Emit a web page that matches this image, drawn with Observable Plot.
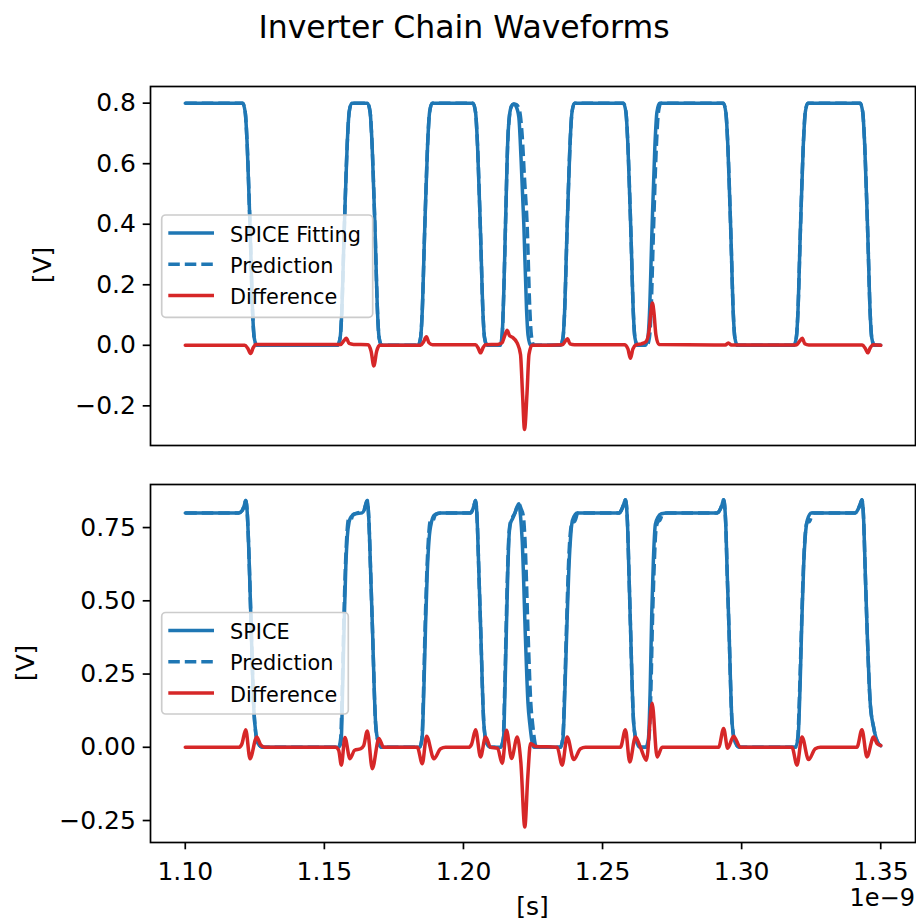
<!DOCTYPE html>
<html><head><meta charset="utf-8">
<script src="https://cdn.jsdelivr.net/npm/d3@7"></script>
<script src="https://cdn.jsdelivr.net/npm/@observablehq/plot@0.6"></script>
<style>
html,body{margin:0;padding:0;background:#fff;}
#fig{position:relative;width:916px;height:922px;overflow:hidden;background:#fff;font-family:"DejaVu Sans",sans-serif;}
#fig svg{position:absolute;left:0;}
</style></head>
<body><div id="fig"></div>
<script>
// ---- data (time in units of 1e-9 s, voltage in V) ----
const title = "Inverter Chain Waveforms";
const xTicks = [1.10, 1.15, 1.20, 1.25, 1.30, 1.35];
const topYTicks = [-0.2, 0.0, 0.2, 0.4, 0.6, 0.8];
const botYTicks = [-0.25, 0.0, 0.25, 0.5, 0.75];
const topLegend = ["SPICE Fitting", "Prediction", "Difference"];
const botLegend = ["SPICE", "Prediction", "Difference"];

const topSpiceT = [1.10000,
 1.12065,1.12155,1.12227,1.12335,1.12425,1.12478,1.12568,
 1.15478,1.15567,1.15621,1.15711,1.15819,1.15891,1.15981,
 1.16555,1.16645,1.16717,1.16825,1.16915,1.16968,1.17058,
 1.18369,1.18459,1.18513,1.18603,1.18710,1.18782,1.18872,
 1.20345,1.20435,1.20506,1.20614,1.20704,1.20758,1.20848,
 1.21315,1.21387,1.21451,1.21512,1.21595,1.21656,1.21728,1.21810,1.21889,1.21990,1.22069,1.22170,1.22267,1.22320,1.22410,
 1.23488,1.23578,1.23631,1.23721,1.23829,1.23901,1.23991,
 1.25751,1.25841,1.25912,1.26020,1.26110,1.26164,1.26254,
 1.26541,1.26631,1.26685,1.26774,1.26882,1.26954,1.27044,
 1.29343,1.29432,1.29504,1.29612,1.29702,1.29756,1.29846,
 1.31875,1.31965,1.32019,1.32109,1.32216,1.32288,1.32378,
 1.34264,1.34353,1.34425,1.34533,1.34623,1.34677,1.34767,
 1.35000];
const topSpiceV = [0.8,
 0.8,0.77,0.66,0.37,0.1,0.025,0,
 0,0.025,0.1,0.37,0.66,0.77,0.8,
 0.8,0.77,0.66,0.37,0.1,0.025,0,
 0,0.025,0.1,0.37,0.66,0.77,0.8,
 0.8,0.77,0.66,0.37,0.1,0.025,0,
 0,0.03,0.18,0.40,0.68,0.76,0.79,0.797,0.79,0.754,0.62,0.40,0.12,0.035,0,
 0,0.025,0.1,0.37,0.66,0.77,0.8,
 0.8,0.77,0.66,0.37,0.1,0.025,0,
 0,0.025,0.1,0.37,0.66,0.77,0.8,
 0.8,0.77,0.66,0.37,0.1,0.025,0,
 0,0.025,0.1,0.37,0.66,0.77,0.8,
 0.8,0.77,0.66,0.37,0.1,0.025,0,
 0];

const topPredT = [1.10000,
 1.12065,1.12155,1.12227,1.12335,1.12425,1.12478,1.12568,
 1.15478,1.15567,1.15621,1.15711,1.15819,1.15891,1.15981,
 1.16555,1.16645,1.16717,1.16825,1.16915,1.16968,1.17058,
 1.18369,1.18459,1.18513,1.18603,1.18710,1.18782,1.18872,
 1.20345,1.20435,1.20506,1.20614,1.20704,1.20758,1.20848,
 1.21315,1.21387,1.21451,1.21512,1.21595,1.21656,1.21728,1.21810,1.21907,1.22015,1.22105,1.22195,1.22288,1.22385,1.22439,1.22529,
 1.23488,1.23578,1.23631,1.23721,1.23829,1.23901,1.23991,
 1.25751,1.25841,1.25912,1.26020,1.26110,1.26164,1.26254,
 1.26595,1.26685,1.26739,1.26828,1.26936,1.27008,1.27098,
 1.29343,1.29432,1.29504,1.29612,1.29702,1.29756,1.29846,
 1.31875,1.31965,1.32019,1.32109,1.32216,1.32288,1.32378,
 1.34264,1.34353,1.34425,1.34533,1.34623,1.34677,1.34767,
 1.35000];
const topPredV = [0.8,
 0.8,0.77,0.66,0.37,0.1,0.025,0,
 0,0.025,0.1,0.37,0.66,0.77,0.8,
 0.8,0.77,0.66,0.37,0.1,0.025,0,
 0,0.025,0.1,0.37,0.66,0.77,0.8,
 0.8,0.77,0.66,0.37,0.1,0.025,0,
 0,0.03,0.18,0.40,0.68,0.76,0.79,0.797,0.795,0.775,0.7,0.55,0.40,0.12,0.035,0,
 0,0.025,0.1,0.37,0.66,0.77,0.8,
 0.8,0.77,0.66,0.37,0.1,0.025,0,
 0,0.025,0.1,0.37,0.66,0.77,0.8,
 0.8,0.77,0.66,0.37,0.1,0.025,0,
 0,0.025,0.1,0.37,0.66,0.77,0.8,
 0.8,0.77,0.66,0.37,0.1,0.025,0,
 0];

const topDiffT = [1.10000,1.12137,1.12245,1.12346,1.12443,1.12532,
 1.15586,1.15693,1.15790,1.15891,1.16052,1.16573,1.16681,1.16778,1.16879,1.16986,
 1.18459,1.18567,1.18667,1.18764,1.18890,
 1.20435,1.20524,1.20614,1.20704,1.20794,
 1.21225,1.21387,1.21476,1.21573,1.21656,1.21753,1.21933,1.22051,1.22123,1.22195,1.22284,1.22356,1.22464,1.22590,
 1.23560,1.23649,1.23739,1.23829,1.23991,
 1.25787,1.25912,1.26002,1.26092,1.26218,1.26397,1.26559,1.26667,1.26739,1.26792,1.26846,1.26918,1.27026,
 1.29415,1.29522,1.29630,
 1.31965,1.32073,1.32180,1.32270,1.32414,
 1.34336,1.34443,1.34533,1.34623,1.34731,1.35000];
const topDiffV = [0,0,-0.01,-0.027,-0.008,0.003,
 0.003,0.014,0.023,0.006,0.003,0.002,-0.02,-0.068,-0.02,0,
 0,0.012,0.028,0.008,0.002,
 0.002,-0.008,-0.025,-0.008,0.002,
 0.003,0.008,0.03,0.05,0.032,0.027,0.007,-0.03,-0.16,-0.278,-0.16,-0.03,0,0,
 0.002,0.012,0.022,0.005,0.002,
 0.002,-0.012,-0.043,-0.012,0.002,0.005,0.012,0.045,0.11,0.14,0.11,0.035,0.003,
 0.001,0.008,0.001,
 0.001,0.012,0.023,0.005,0.001,
 0.001,-0.01,-0.025,-0.008,0.002,0];

const botSpiceT = [1.10000,1.11922,1.12047,1.12119,1.12173,1.12234,1.12292,1.12353,1.12471,1.12532,1.12604,1.12784,
 1.15514,1.15603,1.15657,1.15711,1.15772,1.15826,1.15891,1.15963,1.16124,1.16358,1.16430,1.16483,1.16545,1.16602,1.16663,1.16724,1.16843,1.16932,1.17058,
 1.18423,1.18513,1.18578,1.18639,1.18700,1.18764,1.18854,1.18962,1.19177,
 1.20255,1.20327,1.20381,1.20435,1.20496,1.20553,1.20614,1.20733,1.20830,1.20973,
 1.21333,1.21440,1.21494,1.21548,1.21595,1.21638,1.21692,1.21764,1.21853,1.21925,1.21990,1.22051,1.22112,1.22231,1.22320,1.22385,1.22529,
 1.23488,1.23578,1.23649,1.23721,1.23786,1.23840,1.23919,1.24088,
 1.25607,1.25679,1.25762,1.25823,1.25894,1.25948,1.26002,1.26121,1.26236,1.26361,
 1.26559,1.26649,1.26713,1.26767,1.26828,1.26900,1.26990,1.27116,1.27331,
 1.29127,1.29217,1.29289,1.29353,1.29425,1.29479,1.29540,1.29659,1.29774,1.29917,
 1.31929,1.32026,1.32098,1.32170,1.32234,1.32288,1.32360,1.32504,
 1.34084,1.34174,1.34264,1.34325,1.34389,1.34443,1.34504,1.34623,1.34741,1.34874,1.35000];
const botSpiceV = [0.8,0.8,0.808,0.825,0.842,0.79,0.65,0.46,0.12,0.05,0.015,0,
 0,0.02,0.2,0.42,0.62,0.72,0.77,0.787,0.797,0.8,0.81,0.828,0.842,0.77,0.6,0.42,0.08,0.02,0,
 0,0.03,0.2,0.42,0.6,0.71,0.77,0.793,0.8,
 0.8,0.81,0.826,0.842,0.77,0.6,0.42,0.08,0.015,0,
 0,0.03,0.2,0.42,0.6,0.72,0.765,0.78,0.8,0.82,0.831,0.79,0.705,0.365,0.15,0.08,0,
 0,0.03,0.2,0.42,0.6,0.7,0.775,0.8,
 0.8,0.81,0.83,0.845,0.77,0.6,0.42,0.08,0.015,0,
 0,0.03,0.2,0.45,0.64,0.762,0.785,0.797,0.8,
 0.8,0.81,0.826,0.845,0.77,0.6,0.42,0.08,0.015,0,
 0,0.03,0.2,0.45,0.63,0.72,0.775,0.8,
 0.8,0.81,0.83,0.845,0.77,0.6,0.42,0.15,0.07,0.02,0.005];

const botPredT = [1.10000,1.11922,1.12047,1.12119,1.12173,1.12234,1.12292,1.12353,1.12471,1.12532,1.12604,1.12784,
 1.15514,1.15586,1.15643,1.15697,1.15758,1.15812,1.15873,1.15945,1.16034,1.16196,1.16430,1.16483,1.16545,1.16602,1.16663,1.16724,1.16843,1.16932,1.17058,
 1.18423,1.18506,1.18567,1.18624,1.18685,1.18746,1.18818,1.18890,1.18998,1.19177,
 1.20255,1.20327,1.20381,1.20435,1.20496,1.20553,1.20614,1.20733,1.20830,1.20973,
 1.21333,1.21430,1.21483,1.21537,1.21584,1.21631,1.21692,1.21764,1.21853,1.21925,1.21990,1.22069,1.22152,1.22213,1.22331,1.22421,1.22486,1.22626,
 1.23488,1.23567,1.23639,1.23707,1.23775,1.23840,1.23919,1.23991,1.24116,
 1.25607,1.25679,1.25762,1.25823,1.25894,1.25948,1.26002,1.26121,1.26236,1.26361,
 1.26577,1.26667,1.26739,1.26792,1.26857,1.26918,1.26990,1.27062,1.27170,1.27331,
 1.29127,1.29217,1.29289,1.29353,1.29425,1.29479,1.29540,1.29659,1.29774,1.29917,
 1.31929,1.32015,1.32087,1.32155,1.32223,1.32288,1.32360,1.32432,1.32558,
 1.34084,1.34174,1.34264,1.34325,1.34389,1.34443,1.34504,1.34623,1.34741,1.34874,1.35000];
const botPredV = [0.8,0.8,0.808,0.825,0.842,0.79,0.65,0.46,0.12,0.05,0.015,0,
 0,0.03,0.2,0.42,0.62,0.73,0.78,0.775,0.795,0.8,0.81,0.828,0.842,0.77,0.6,0.42,0.08,0.02,0,
 0,0.03,0.2,0.42,0.6,0.72,0.775,0.772,0.795,0.8,
 0.8,0.81,0.826,0.842,0.77,0.6,0.42,0.08,0.015,0,
 0,0.03,0.2,0.42,0.6,0.72,0.77,0.785,0.8,0.82,0.831,0.815,0.79,0.705,0.365,0.15,0.08,0,
 0,0.03,0.2,0.42,0.62,0.73,0.77,0.77,0.8,
 0.8,0.81,0.83,0.845,0.77,0.6,0.42,0.08,0.015,0,
 0,0.03,0.2,0.42,0.62,0.74,0.77,0.775,0.797,0.8,
 0.8,0.81,0.826,0.845,0.77,0.6,0.42,0.08,0.015,0,
 0,0.03,0.2,0.42,0.62,0.73,0.77,0.77,0.8,
 0.8,0.81,0.83,0.845,0.77,0.6,0.42,0.15,0.07,0.02,0.005];

const botDiffT = [1.10000,1.11922,1.12029,1.12173,1.12328,1.12568,1.12712,1.12856,
 1.15406,1.15514,1.15611,1.15740,1.15920,1.16088,1.16304,1.16412,1.16545,1.16724,1.16961,1.17130,
 1.18341,1.18520,1.18675,1.18937,1.19177,1.19357,
 1.20183,1.20291,1.20435,1.20614,1.20794,1.20973,
 1.21225,1.21394,1.21548,1.21728,1.21933,1.22062,1.22205,1.22313,1.22410,1.22590,
 1.23369,1.23549,1.23728,1.23966,1.24206,1.24386,
 1.25643,1.25823,1.25977,1.26182,1.26361,1.26577,1.26782,1.26961,1.27141,
 1.29174,1.29353,1.29497,1.29713,1.29953,
 1.31810,1.31990,1.32170,1.32407,1.32647,1.32827,
 1.34145,1.34325,1.34504,1.34741,1.34874,1.35000];
const botDiffV = [0,0,0.01,0.06,-0.039,0.035,0.008,0,
 0,-0.01,-0.061,0.033,-0.039,-0.01,-0.005,0.005,0.056,-0.073,0.03,0,
 0,-0.056,0.038,-0.039,-0.005,0,
 0,0.01,0.06,-0.033,0.035,0,
 -0.003,-0.055,0.058,-0.038,0.035,-0.05,-0.272,-0.1,0.013,0.003,
 0,-0.061,0.035,-0.042,-0.005,0,
 0,0.06,-0.05,0.035,0,-0.044,0.15,-0.033,0,
 0,0.064,-0.003,0.038,0,
 0,-0.061,0.035,-0.042,-0.005,0,
 0,0.06,-0.033,0.035,0.012,0.006];

// ---- styling ----
const BLUE = "#1f77b4", RED = "#d62728";
const LW = 3.5, DASH = "11.5,5";
const xDomain = [1.0875, 1.3625];
const rows = (T, V) => d3.zip(T, V).map(([t, v]) => ({t, v}));
const fmt1 = d => (d < 0 ? "\u2212" : "") + Math.abs(d).toFixed(1);
const fmt2 = d => (d < 0 ? "\u2212" : "") + Math.abs(d).toFixed(2);

function panel(cfg) {
  const svg = Plot.plot({
    width: 916, height: cfg.height,
    marginLeft: 150, marginRight: 1, marginTop: cfg.mt, marginBottom: cfg.mb,
    x: {type: "linear", domain: xDomain},
    y: {type: "linear", domain: cfg.yDomain},
    style: {fontFamily: "DejaVu Sans", fontSize: "25px", color: "#000", background: "transparent", overflow: "visible"},
    marks: [
      Plot.line(rows(cfg.st, cfg.sv), {x: "t", y: "v", stroke: BLUE, strokeWidth: LW, curve: "monotone-x"}),
      Plot.line(rows(cfg.pt, cfg.pv), {x: "t", y: "v", stroke: BLUE, strokeWidth: LW, strokeDasharray: DASH, strokeLinecap: "butt", curve: "monotone-x"}),
      Plot.line(rows(cfg.dt, cfg.dv), {x: "t", y: "v", stroke: RED, strokeWidth: LW, curve: "monotone-x"}),
      Plot.frame({stroke: "#000", strokeWidth: 1.7}),
      Plot.axisY({ticks: cfg.yTicks, tickFormat: cfg.yFmt, tickSize: 7.3, tickPadding: 7.3, strokeWidth: 1.7, label: null}),
      cfg.showX
        ? Plot.axisX({ticks: xTicks, tickFormat: d => d.toFixed(2), tickSize: 7.3, tickPadding: 12, strokeWidth: 1.7, label: null})
        : Plot.axisX({ticks: [], label: null})
    ]
  });
  svg.style.top = cfg.top + "px";
  return svg;
}

const fig = document.getElementById("fig");
fig.appendChild(panel({top: 66, height: 387, mt: 20, mb: 8, yDomain: [-0.331, 0.855], yTicks: topYTicks, yFmt: fmt1,
  st: topSpiceT, sv: topSpiceV, pt: topPredT, pv: topPredV, dt: topDiffT, dv: topDiffV, showX: false}));
fig.appendChild(panel({top: 464, height: 458, mt: 20, mb: 80, yDomain: [-0.325, 0.897], yTicks: botYTicks, yFmt: fmt2,
  st: botSpiceT, sv: botSpiceV, pt: botPredT, pv: botPredV, dt: botDiffT, dv: botDiffV, showX: true}));

// ---- overlay: title, axis labels, legends ----
const ov = d3.select(fig).append("svg").attr("width", 916).attr("height", 922)
  .style("top", "0px").style("font-family", "DejaVu Sans").style("pointer-events", "none");
ov.append("text").attr("x", 464).attr("y", 38.3).attr("text-anchor", "middle").attr("font-size", 31.5).text(title);
ov.append("text").attr("transform", "translate(51,265) rotate(-90)").attr("text-anchor", "middle").attr("font-size", 25).text("[V]");
ov.append("text").attr("transform", "translate(34,663) rotate(-90)").attr("text-anchor", "middle").attr("font-size", 25).text("[V]");
ov.append("text").attr("x", 532.5).attr("y", 915).attr("text-anchor", "middle").attr("font-size", 25).text("[s]");
ov.append("text").attr("x", 915).attr("y", 906).attr("text-anchor", "end").attr("font-size", 24).text("1e\u22129");

function legend(x, y, w, h, labels) {
  const g = ov.append("g");
  g.append("rect").attr("x", x).attr("y", y).attr("width", w).attr("height", h).attr("rx", 4)
    .attr("fill", "#fff").attr("fill-opacity", 0.8).attr("stroke", "#cccccc").attr("stroke-width", 1.7);
  const styles = [{c: BLUE, d: null}, {c: BLUE, d: DASH}, {c: RED, d: null}];
  labels.forEach((lab, i) => {
    const cy = y + 18 + i * 31.3;
    const ln = g.append("line").attr("x1", x + 6.6).attr("x2", x + 52.3).attr("y1", cy).attr("y2", cy)
      .attr("stroke", styles[i].c).attr("stroke-width", LW);
    if (styles[i].d) ln.attr("stroke-dasharray", styles[i].d);
    g.append("text").attr("x", x + 68.3).attr("y", cy + 8.6).attr("font-size", 20.8).text(lab);
  });
}
legend(161.7, 215, 211, 102.3, topLegend);
legend(161.7, 612.5, 186.6, 101.5, botLegend);
</script>
</body></html>
